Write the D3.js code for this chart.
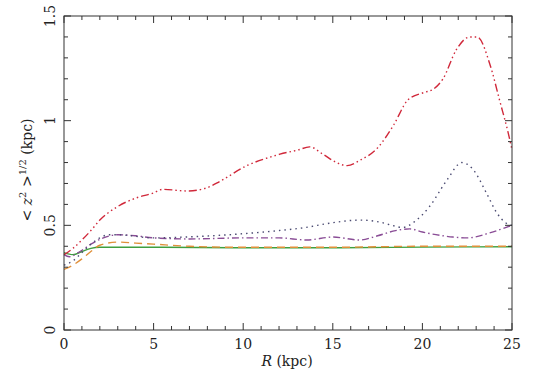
<!DOCTYPE html>
<html><head><meta charset="utf-8">
<script src="https://cdn.jsdelivr.net/npm/d3@7/dist/d3.min.js"></script>
<style>body{margin:0;background:#fff}svg{display:block}</style>
</head><body>
<script>
const xTicks = [0, 5, 10, 15, 20, 25];
const yTicks = [0, 0.5, 1, 1.5];
const yTickLabels = ["0", "0.5", "1", "1.5"];

const redR = [0, 0.5, 1, 1.5, 2, 3, 4, 5, 5.5, 6.9, 8, 8.7, 10.2, 11.5, 12.05, 13.06, 13.7, 14.45, 15.2, 15.8, 16.5, 17.5, 18.4, 19.2, 20.1, 20.6, 21.15, 21.9, 22.65, 23.05, 23.8, 24.3, 24.9, 25];
const redZ = [0.36, 0.39, 0.43, 0.475, 0.525, 0.59, 0.63, 0.655, 0.672, 0.664, 0.68, 0.71, 0.785, 0.826, 0.84, 0.86, 0.875, 0.84, 0.8, 0.785, 0.81, 0.87, 0.98, 1.10, 1.135, 1.15, 1.20, 1.34, 1.40, 1.40, 1.26, 1.10, 0.90, 0.86];

const dotR = [0, 0.5, 1, 1.5, 2, 2.5, 3, 5, 7, 10, 12, 13.5, 14.8, 16.5, 17.6, 18.3, 18.9, 19.6, 20.4, 21.4, 22.2, 22.8, 23.6, 24.15, 24.6, 25];
const dotZ = [0.31, 0.33, 0.37, 0.41, 0.44, 0.455, 0.455, 0.44, 0.445, 0.46, 0.475, 0.49, 0.51, 0.525, 0.516, 0.5, 0.49, 0.52, 0.59, 0.72, 0.80, 0.77, 0.65, 0.56, 0.515, 0.5];

const purR = [0, 0.3, 0.8, 1.5, 2.2, 3, 4, 5, 7, 10, 12, 13.55, 15, 16.5, 17.5, 18.5, 19.3, 20, 21, 21.7, 22.5, 23.8, 24.5, 25];
const purZ = [0.36, 0.35, 0.37, 0.41, 0.44, 0.455, 0.45, 0.44, 0.435, 0.44, 0.44, 0.43, 0.444, 0.43, 0.45, 0.475, 0.483, 0.468, 0.452, 0.444, 0.44, 0.465, 0.485, 0.50];

const oraR = [0, 0.5, 1, 1.5, 2, 3, 4, 5, 7, 10, 15, 20, 25];
const oraZ = [0.29, 0.31, 0.34, 0.375, 0.405, 0.42, 0.415, 0.41, 0.40, 0.395, 0.395, 0.40, 0.40];

const greR = [0, 0.5, 1, 1.5, 2, 3, 5, 10, 15, 20, 25];
const greZ = [0.37, 0.36, 0.375, 0.39, 0.395, 0.395, 0.395, 0.393, 0.393, 0.396, 0.398];

const series = [
  {r: greR, z: greZ, color: "#3f9f3f", dash: null},
  {r: oraR, z: oraZ, color: "#e0903a", dash: "8,5"},
  {r: purR, z: purZ, color: "#8a4d96", dash: "7,3,1.5,3"},
  {r: dotR, z: dotZ, color: "#4b4b72", dash: "1.5,4"},
  {r: redR, z: redZ, color: "#d0283a", dash: "8,3,1.5,3,1.5,3,1.5,3"}
];

const W = 560, H = 383;
const L = 64, R = 512, T = 16, B = 330;
const svg = d3.select("body").append("svg").attr("width", W).attr("height", H);
const x = d3.scaleLinear().domain([0, 25]).range([L, R]);
const y = d3.scaleLinear().domain([0, 1.5]).range([B, T]);

const line = d3.line().x(d => x(d[0])).y(d => y(d[1])).curve(d3.curveMonotoneX);
const g = svg.append("g");
series.forEach(s => {
  const pts = s.r.map((r, i) => [r, s.z[i]]);
  g.append("path").attr("d", line(pts)).attr("fill", "none")
    .attr("stroke", s.color).attr("stroke-width", 1.4)
    .attr("stroke-dasharray", s.dash);
});

const axColor = "#333";
svg.append("rect").attr("x", L).attr("y", T).attr("width", R - L).attr("height", B - T)
  .attr("fill", "none").attr("stroke", axColor).attr("stroke-width", 1);

const xMinor = d3.range(0, 25.01, 1);
const yMinor = d3.range(0, 1.501, 0.1);
const tk = svg.append("g").attr("stroke", axColor).attr("stroke-width", 1);
xMinor.forEach(v => {
  const major = Math.abs(v % 5) < 1e-6;
  const len = major ? 7 : 4;
  tk.append("line").attr("x1", x(v)).attr("x2", x(v)).attr("y1", B).attr("y2", B - len);
  tk.append("line").attr("x1", x(v)).attr("x2", x(v)).attr("y1", T).attr("y2", T + len);
});
yMinor.forEach(v => {
  const major = Math.abs((v * 10) % 5) < 1e-6 || Math.abs((v * 10) % 5 - 5) < 1e-6;
  const len = major ? 7 : 4;
  tk.append("line").attr("y1", y(v)).attr("y2", y(v)).attr("x1", L).attr("x2", L + len);
  tk.append("line").attr("y1", y(v)).attr("y2", y(v)).attr("x1", R).attr("x2", R - len);
});

const font = "DejaVu Serif, serif";
svg.append("g").selectAll("text").data(xTicks).join("text")
  .attr("x", d => x(d)).attr("y", 349).attr("text-anchor", "middle")
  .attr("font-family", font).attr("font-size", 14).attr("fill", "#222").text(d => d);

svg.append("g").selectAll("text").data(yTicks).join("text")
  .attr("transform", d => `translate(55,${y(d)}) rotate(-90)`).attr("text-anchor", "middle")
  .attr("font-family", font).attr("font-size", 14).attr("fill", "#222")
  .text((d, i) => yTickLabels[i]);

const xl = svg.append("text").attr("x", 287).attr("y", 366).attr("text-anchor", "middle")
  .attr("font-family", font).attr("font-size", 14).attr("fill", "#222");
xl.append("tspan").attr("font-style", "italic").text("R");
xl.append("tspan").text("  (kpc)");

const yl = svg.append("text").attr("transform", "translate(32,170) rotate(-90)").attr("text-anchor", "middle")
  .attr("font-family", font).attr("font-size", 14).attr("fill", "#222");
yl.append("tspan").text("< ");
yl.append("tspan").attr("font-style", "italic").text("z");
yl.append("tspan").attr("font-size", 10).attr("dy", -6).text("2");
yl.append("tspan").attr("dy", 6).text(" >");
yl.append("tspan").attr("font-size", 10).attr("dy", -6).text("1/2");
yl.append("tspan").attr("dy", 6).text(" (kpc)");
</script>
</body></html>
